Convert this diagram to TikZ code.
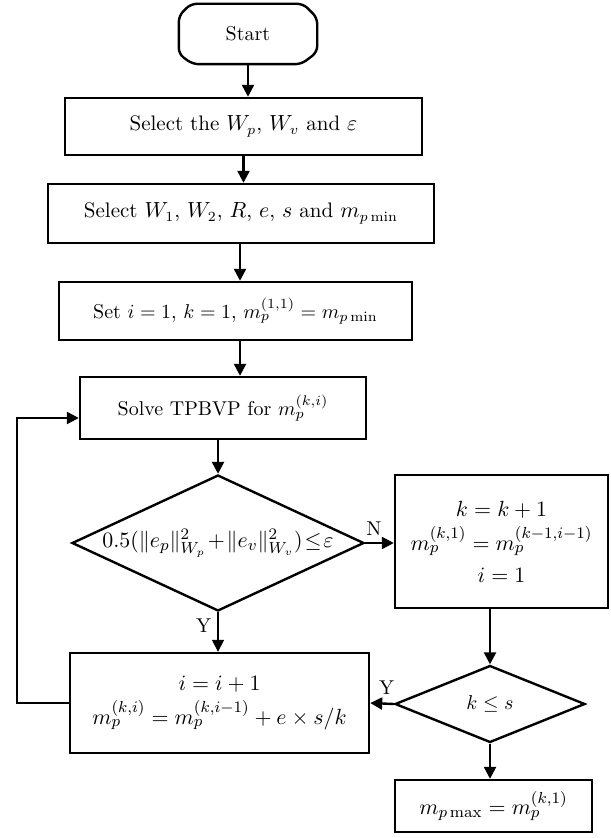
\documentclass[tikz,border=0pt]{standalone}
\usetikzlibrary{shapes.geometric,arrows.meta,calc}
\begin{document}
\begin{tikzpicture}[x=0.5pt,y=-0.5pt,line width=1.2pt,
  >={Triangle[length=6pt,width=6pt]},
  box/.style={draw,rectangle,inner sep=0pt,align=center},
  dec/.style={draw,diamond,inner sep=0pt},
  big/.style={font=\fontsize{11}{14}\selectfont},
  lab/.style={inner sep=0pt}]
\useasboundingbox (0,0) rectangle (610,838);
% start
\node[minimum width=68pt,minimum height=29pt,inner sep=0pt] (start) at (248,34) {Start};
\draw[rounded corners=3pt]
  ($(start.north west)+(12,0)$) -- ($(start.north east)+(-14,0)$) --
  ($(start.north east)+(0,14)$) -- ($(start.south east)+(0,-12)$) --
  ($(start.south east)+(-16,0)$) -- ($(start.south west)+(14,0)$) --
  ($(start.south west)+(0,-10)$) -- ($(start.north west)+(0,12)$) -- cycle;
% boxes
\node[box,minimum width=178.5pt,minimum height=28.5pt,font=\fontsize{10.5}{13}\selectfont] (b1) at (243.5,126.5) {Select the $W_p$, $W_v$ and $\varepsilon$};
\node[box,minimum width=193pt,minimum height=29.5pt,font=\fontsize{10.5}{13}\selectfont] (b2) at (241,213.5) {Select $W_1$, $W_2$, $R$, $e$, $s$ and $m_{p\min}$};
\node[box,minimum width=176.5pt,minimum height=29pt] (b3) at (235.5,311) {Set $i=1$, $k=1$, $m_p^{(1,1)}=m_{p\min}$};
\node[box,minimum width=143pt,minimum height=31pt] (b4) at (223,408) {Solve TPBVP for $m_p^{(k,i)}$};
\node[dec,minimum width=146pt,minimum height=68pt,
  label={[big]center:$0.5(\|e_p\|^2_{W_p}\mkern1.5mu{+}\mkern1.5mu\|e_v\|^2_{W_v})\mkern1.5mu{\le}\mkern1.5mu\varepsilon$}] (d1) at (218,543) {};
\node[box,big,minimum width=106.5pt,minimum height=66.5pt] (rb) at (501.5,541.5)
  {$k=k+1$\\[3pt] $m_p^{(k,1)}=m_p^{(k-1,i-1)}$\\[2pt] $i=1$};
\node[box,big,minimum width=149.5pt,minimum height=50pt] (b5) at (219.5,703)
  {$i=i+1$\\[3pt] $m_p^{(k,i)}=m_p^{(k,i-1)}+e\times s/k$};
\node[dec,minimum width=95pt,minimum height=38.5pt,label={center:$k\le s$}] (d2) at (490,704) {};
\node[box,minimum width=98.5pt,minimum height=26pt,font=\fontsize{10.8}{13}\selectfont] (b6) at (493.5,806) {$m_{p\max}=m_p^{(k,1)}$};
% connectors
\draw[->] (start.south) -- (start.south |- b1.north);
\draw[->] (b1.south) -- (b1.south |- b2.north);
\draw[->] (b3.north -| 240,0) ++(0,-39) coordinate (c23) -- (c23 |- b3.north);
\draw[->] (b4.north -| 240,0) ++(0,-37) coordinate (c34) -- (c34 |- b4.north);
\draw[->] (d1.north |- b4.south) -- (d1.north);
\draw[->] (d1.east) -- (d1.east -| rb.west) node[lab,pos=0.3,above=3pt] {N};
\draw[->,line width=0.8pt] (d1.south) -- (d1.south |- b5.north) node[lab,pos=0.35,left=3pt] {Y};
\draw[->] (d2.north |- rb.south) -- (d2.north);
\draw[->] (d2.west) -- (b5.east) node[lab,pos=0.3,above=4pt] {Y};
\draw[->] (d2.south) -- (d2.south |- b6.north);
\draw[->] (b5.west) -- ++(-52,0) coordinate (fb) |- ($(b4.west)+(0,10)$);
\end{tikzpicture}
\end{document}
